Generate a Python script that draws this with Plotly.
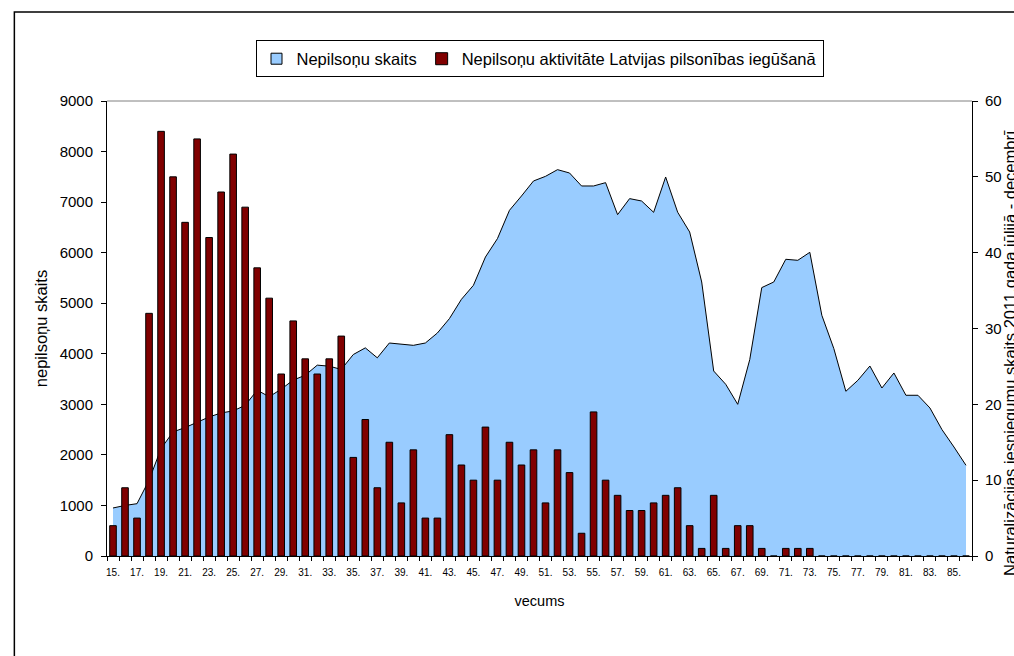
import plotly.graph_objects as go

# vecums (age) categories 15. ... 86.
ages = [str(a) + "." for a in range(15, 87)]

# Nepilsoņu skaits (left axis)
nepilsoni = [950, 1000, 1035, 1500, 2125, 2455, 2540, 2640, 2750, 2830,
             2870, 2980, 3280, 3150, 3300, 3480, 3575, 3775, 3755, 3690,
             3985, 4117, 3920, 4213, 4194, 4167, 4213, 4411, 4695, 5077,
             5354, 5914, 6278, 6838, 7121, 7418, 7510, 7642, 7576, 7319,
             7319, 7385, 6752, 7069, 7022, 6798, 7497, 6800, 6409, 5420,
             3659, 3396, 3000, 3884, 5309, 5420, 5869, 5849, 6007, 4761,
             4102, 3258, 3475, 3758, 3323, 3620, 3179, 3179, 2928, 2500,
             2156, 1794]

# Naturalizācijas iesniegumi (right axis)
iesniegumi = [4, 9, 5, 32, 56, 50, 44, 55, 42, 48,
              53, 46, 38, 34, 24, 31, 26, 24, 26, 29,
              13, 18, 9, 15, 7, 14, 5, 5, 16, 12,
              10, 17, 10, 15, 12, 14, 7, 14, 11, 3,
              19, 10, 8, 6, 6, 7, 8, 9, 4, 1,
              8, 1, 4, 4, 1, 0, 1, 1, 1, 0,
              0, 0, 0, 0, 0, 0, 0, 0, 0, 0,
              0, 0]

tick_text = [a if i % 2 == 0 else "" for i, a in enumerate(ages)]

FONT = "Liberation Sans, Arial, sans-serif"
AREA_COL = "#99CCFF"
BAR_COL = "#800000"

fig = go.Figure()
fig.add_trace(go.Scatter(
    x=ages, y=nepilsoni, name="Nepilsoņu skaits",
    mode="lines", fill="tozeroy", fillcolor=AREA_COL,
    line=dict(color="black", width=1),
    xaxis="x", yaxis="y", showlegend=False,
))
# legend entry only (square swatch like the original)
fig.add_trace(go.Scatter(
    x=[ages[0]], y=[None], name="Nepilsoņu skaits", mode="markers",
    marker=dict(symbol="square", size=11, color=AREA_COL, line=dict(color="black", width=1)),
    xaxis="x", yaxis="y",
))
fig.add_trace(go.Bar(
    x=ages, y=iesniegumi, name="Nepilsoņu aktivitāte Latvijas pilsonības iegūšanā",
    marker=dict(color=BAR_COL, line=dict(color="black", width=1)),
    xaxis="x", yaxis="y2",
))

fig.update_layout(
    width=1014, height=656,
    margin=dict(l=107, r=39, t=101, b=100),
    paper_bgcolor="white", plot_bgcolor="white",
    font=dict(family=FONT, color="black"),
    bargap=0.45,
    showlegend=True,
    legend=dict(orientation="h", x=0.5, xanchor="center", y=1.133, yanchor="top",
                bordercolor="black", borderwidth=1, font=dict(size=16.5),
                itemwidth=30, tracegroupgap=0),
    xaxis=dict(type="category", tickmode="array", tickvals=ages, ticktext=tick_text,
               tickson="boundaries", ticks="outside", ticklen=4, tickcolor="black",
               showline=True, linecolor="black", showgrid=False,
               tickfont=dict(size=10), tickangle=0, ticklabelstandoff=7,
               title=dict(text="vecums", font=dict(size=14.5), standoff=18),
               range=[-0.5, 71.5]),
    xaxis2=dict(overlaying="x", anchor="y", range=[-0.5, 71.5], tick0=-0.5, dtick=1,
                ticks="inside", ticklen=4, tickcolor="black", showticklabels=False,
                showgrid=False, zeroline=False, showline=False),
    yaxis=dict(range=[0, 9000], dtick=1000, ticks="outside", ticklen=5, tickcolor="black",
               showline=True, linecolor="black", showgrid=False, zeroline=False,
               tickfont=dict(size=15), ticklabelstandoff=5,
               title=dict(text="nepilsoņu skaits", font=dict(size=16.5), standoff=7)),
    yaxis2=dict(overlaying="y", side="right", anchor="x", range=[0, 60], dtick=10,
                ticks="outside", ticklen=5, tickcolor="black", showline=True,
                linecolor="black", showgrid=False, zeroline=False,
                tickfont=dict(size=15), ticklabelstandoff=4),
    yaxis3=dict(overlaying="y", side="right", anchor="x", range=[0, 60], dtick=10,
                ticks="inside", ticklen=5, tickcolor="black", showticklabels=False,
                showgrid=False, zeroline=False, showline=False),
    shapes=[
        dict(type="line", xref="paper", yref="paper", x0=0, x1=1, y0=1, y1=1,
             line=dict(color="#808080", width=1), layer="below"),
        dict(type="rect", xref="paper", yref="paper", x0=-0.1071, x1=1.1, y0=-0.3, y1=1.1956,
             line=dict(color="black", width=1.5), fillcolor="rgba(0,0,0,0)", layer="below"),
    ],
    annotations=[
        dict(text="Naturalizācijas iesniegumu skaits 2011.gada jūlijā - decembrī",
             xref="paper", yref="paper", x=1.0311, y=-0.0484, xanchor="left",
             yanchor="bottom", textangle=-90, showarrow=False, font=dict(size=16.5)),
    ],
)

# drop the default 8px page margin so the figure fills the window exactly
fig.write_html("out.html", config={"displayModeBar": False},
               post_script="document.body.style.margin='0';")
